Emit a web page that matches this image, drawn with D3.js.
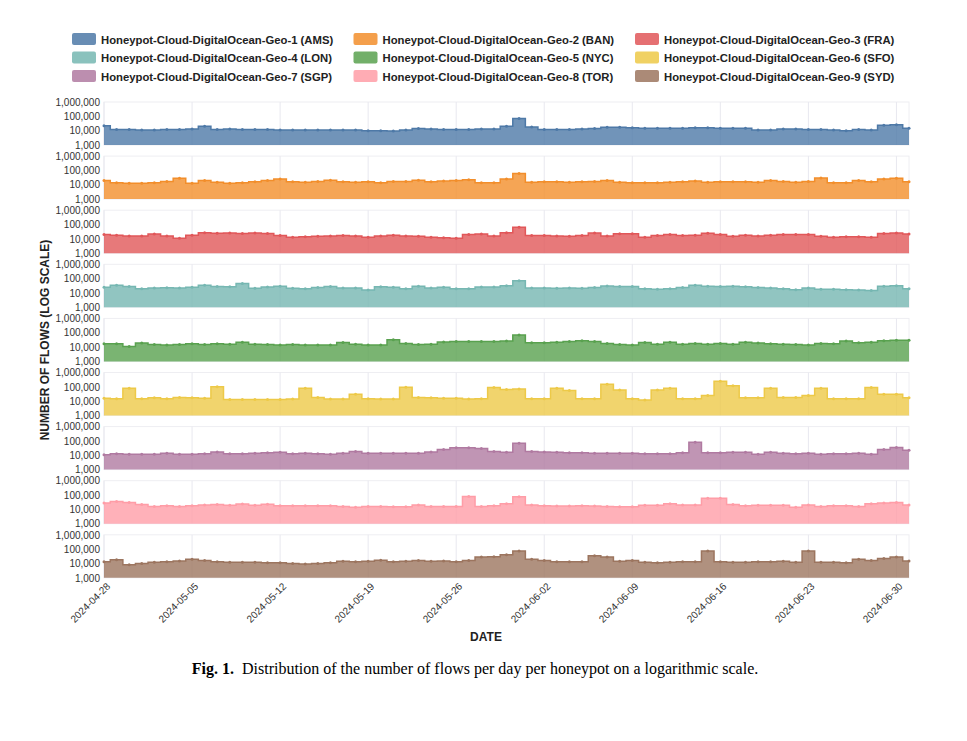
<!DOCTYPE html>
<html>
<head>
<meta charset="utf-8">
<script src="https://cdn.jsdelivr.net/npm/d3@7"></script>
<style>
  body { margin: 0; background: #fff; }
  text { font-family: "Liberation Sans", Arial, sans-serif; }
  .tick text { font-size: 10px; fill: #333; }
  .caption { font-family: "Liberation Serif", "DejaVu Serif", serif; font-size: 16px; }
</style>
</head>
<body>
<svg id="chart"></svg>
<script>
// names and colours of the nine honeypots
const seriesNames = [
  "Honeypot-Cloud-DigitalOcean-Geo-1 (AMS)", "Honeypot-Cloud-DigitalOcean-Geo-2 (BAN)", "Honeypot-Cloud-DigitalOcean-Geo-3 (FRA)",
  "Honeypot-Cloud-DigitalOcean-Geo-4 (LON)", "Honeypot-Cloud-DigitalOcean-Geo-5 (NYC)", "Honeypot-Cloud-DigitalOcean-Geo-6 (SFO)",
  "Honeypot-Cloud-DigitalOcean-Geo-7 (SGP)", "Honeypot-Cloud-DigitalOcean-Geo-8 (TOR)", "Honeypot-Cloud-DigitalOcean-Geo-9 (SYD)"
];
const colors = ["#4e79a7", "#f28e2b", "#e15759", "#76b7b2", "#59a14f", "#edc948", "#b07aa1", "#ff9da7", "#9c755f"];

const startDate = "2024-04-28";
const tickDates = ["2024-04-28", "2024-05-05", "2024-05-12", "2024-05-19", "2024-05-26", "2024-06-02", "2024-06-09", "2024-06-16", "2024-06-23", "2024-06-30"];
const yTicks = [1000, 10000, 100000, 1000000];

// daily flows, thousands, one value per day from 2024-04-28 to 2024-07-01
const ams = [22,12,12,11,11,12,12,13,20,12,13,12,12,12,11,11,11,11,11,11,11,10,10,9.5,11,14,13,12,12,12,13,13,20,70,18,12,12,12,13,14,17,17,16,15,15,15,15,16,16,15,15,15,11,11,13,13,12,12,11,10,12,11,24,26,15];
const ban = [20,14,13,13,14,17,28,13,20,15,13,14,16,20,25,16,15,17,21,16,15,16,14,17,17,21,16,18,20,22,14,14,25,60,15,16,16,15,16,17,20,15,14,14,14,15,16,18,15,16,16,16,15,20,17,15,17,30,14,14,20,16,25,28,16];
const fra = [20,18,16,16,22,16,11,18,27,25,26,24,26,24,17,13,14,15,16,17,16,13,16,18,16,15,13,12,11,20,22,16,27,65,17,17,16,15,17,26,16,23,23,13,17,20,17,18,25,20,15,18,16,18,20,20,20,15,13,14,14,13,24,26,22];
const lon = [25,35,28,20,22,23,22,25,35,28,27,45,21,26,30,21,20,24,28,22,22,16,27,25,20,30,22,25,20,20,26,26,32,70,22,22,21,22,21,24,31,28,28,20,18,20,24,34,29,28,29,27,24,22,20,17,22,18,18,17,16,15,30,32,20];
const nyc = [17,17,11,19,15,14,15,17,15,17,16,22,16,15,14,15,14,14,14,21,16,14,14,32,18,15,16,23,24,24,24,24,26,70,20,20,22,24,28,24,18,15,14,21,16,22,16,18,16,18,16,22,19,17,16,15,14,18,17,27,20,22,28,30,30];
const sfo = [16,15,80,15,17,15,18,17,16,100,13,13,13,13,13,14,80,18,14,14,30,15,14,14,95,18,17,16,16,14,15,90,65,70,15,15,80,55,15,15,150,60,15,12,60,80,15,15,25,250,120,17,17,80,18,18,25,80,15,15,15,90,30,30,17];
const sgp = [11,13,12,12,12,14,12,12,13,17,13,13,14,15,16,13,14,13,12,14,18,14,14,14,14,14,17,25,33,33,30,18,16,70,18,17,16,15,15,14,14,14,14,13,13,13,15,80,15,15,16,16,12,16,14,13,14,12,13,13,14,12,25,35,22];
const tor = [28,35,30,22,16,18,16,18,20,22,19,24,19,23,18,18,18,18,18,16,14,16,16,15,15,20,16,16,16,80,16,18,25,75,20,18,17,17,18,17,16,15,15,19,19,25,20,20,60,60,22,18,19,19,19,14,20,16,18,18,16,25,28,30,20];
const syd = [13,18,8,10,12,13,15,20,16,13,12,12,12,11,11,10,9,10,11,14,13,14,17,13,14,16,14,15,13,16,28,30,40,75,20,16,13,13,13,35,28,14,16,12,11,12,13,13,75,13,12,12,13,13,14,12,75,12,12,11,20,16,22,28,15];

const seriesValues = [ams, ban, fra, lon, nyc, sfo, sgp, tor, syd];

const W = 967, H = 741;
const svg = d3.select("#chart").attr("width", W).attr("height", H);

const margin = { left: 104, right: 58, top: 102 };
const panelH = 43, panelStep = 54.1;

const parse = d3.utcParse("%Y-%m-%d");
const start = parse(startDate);
const dayCount = ams.length;
const days = d3.range(dayCount).map(i => d3.utcDay.offset(start, i));

const x = d3.scaleUtc()
    .domain([days[0], days[dayCount - 1]])
    .range([margin.left, W - margin.right]);

const y = d3.scaleLog().domain([1000, 1000000]).range([panelH, 0]);

// legend
const legend = svg.append("g");
seriesNames.forEach((name, i) => {
  const col = i % 3, row = Math.floor(i / 3);
  const g = legend.append("g").attr("transform", `translate(${72 + col * 281.5},${33 + row * 18.5})`);
  g.append("rect").attr("width", 24).attr("height", 12).attr("rx", 2)
    .attr("fill", colors[i]).attr("fill-opacity", 0.85);
  g.append("text").attr("x", 29).attr("y", 10.5)
    .attr("font-size", 11.3).attr("font-weight", "bold").attr("fill", "#222").text(name);
});

seriesValues.forEach((vals, i) => {
  const data = vals.map((v, j) => ({ date: days[j], value: v * 1000 }));
  const g = svg.append("g").attr("transform", `translate(0,${margin.top + i * panelStep})`);

  g.append("rect").attr("x", margin.left).attr("y", 0)
    .attr("width", W - margin.right - margin.left).attr("height", panelH)
    .attr("fill", "none").attr("stroke", "#eeeef2");

  g.selectAll(".vgrid").data(tickDates.map(parse)).join("line")
    .attr("x1", d => x(d)).attr("x2", d => x(d))
    .attr("y1", 0).attr("y2", panelH)
    .attr("stroke", "#e8e8ef");

  const area = d3.area().curve(d3.curveStep)
    .x(d => x(d.date)).y0(panelH).y1(d => y(d.value));
  const line = d3.line().curve(d3.curveStep)
    .x(d => x(d.date)).y(d => y(d.value));

  g.append("path").datum(data).attr("d", area)
    .attr("fill", colors[i]).attr("fill-opacity", 0.8);
  g.append("path").datum(data).attr("d", line)
    .attr("fill", "none").attr("stroke", colors[i]).attr("stroke-width", 1.5);
  g.selectAll("circle").data(data).join("circle")
    .attr("cx", d => x(d.date)).attr("cy", d => y(d.value)).attr("r", 1.5)
    .attr("fill", colors[i]);

  const yAxis = d3.axisLeft(y).tickValues(yTicks).tickFormat(d3.format(",")).tickSize(0).tickPadding(4);
  g.append("g").attr("transform", `translate(${margin.left},0)`).call(yAxis)
    .call(a => a.select(".domain").remove());
});

// x axis below last panel
const xAxisY = margin.top + 8 * panelStep + panelH;
svg.append("g").attr("transform", `translate(0,${xAxisY})`)
  .call(d3.axisBottom(x).tickValues(tickDates.map(parse)).tickFormat(d3.utcFormat("%Y-%m-%d")).tickSize(0).tickPadding(6))
  .call(a => a.select(".domain").remove())
  .selectAll("text")
    .attr("text-anchor", "end")
    .attr("dx", "-0.2em").attr("dy", "0.5em")
    .attr("transform", "rotate(-45)");

svg.append("text").attr("x", 486).attr("y", 641).attr("text-anchor", "middle")
  .attr("font-size", 12).attr("font-weight", "bold").attr("fill", "#222").text("DATE");

svg.append("text").attr("transform", "translate(49,340) rotate(-90)").attr("text-anchor", "middle")
  .attr("font-size", 12).attr("font-weight", "bold").attr("fill", "#222").text("NUMBER OF FLOWS (LOG SCALE)");

const cap = svg.append("text").attr("class", "caption").attr("x", 475).attr("y", 674).attr("text-anchor", "middle");
cap.append("tspan").attr("font-weight", "bold").text("Fig. 1.");
cap.append("tspan").text("\u2002Distribution of the number of flows per day per honeypot on a logarithmic scale.");
</script>
</body>
</html>
